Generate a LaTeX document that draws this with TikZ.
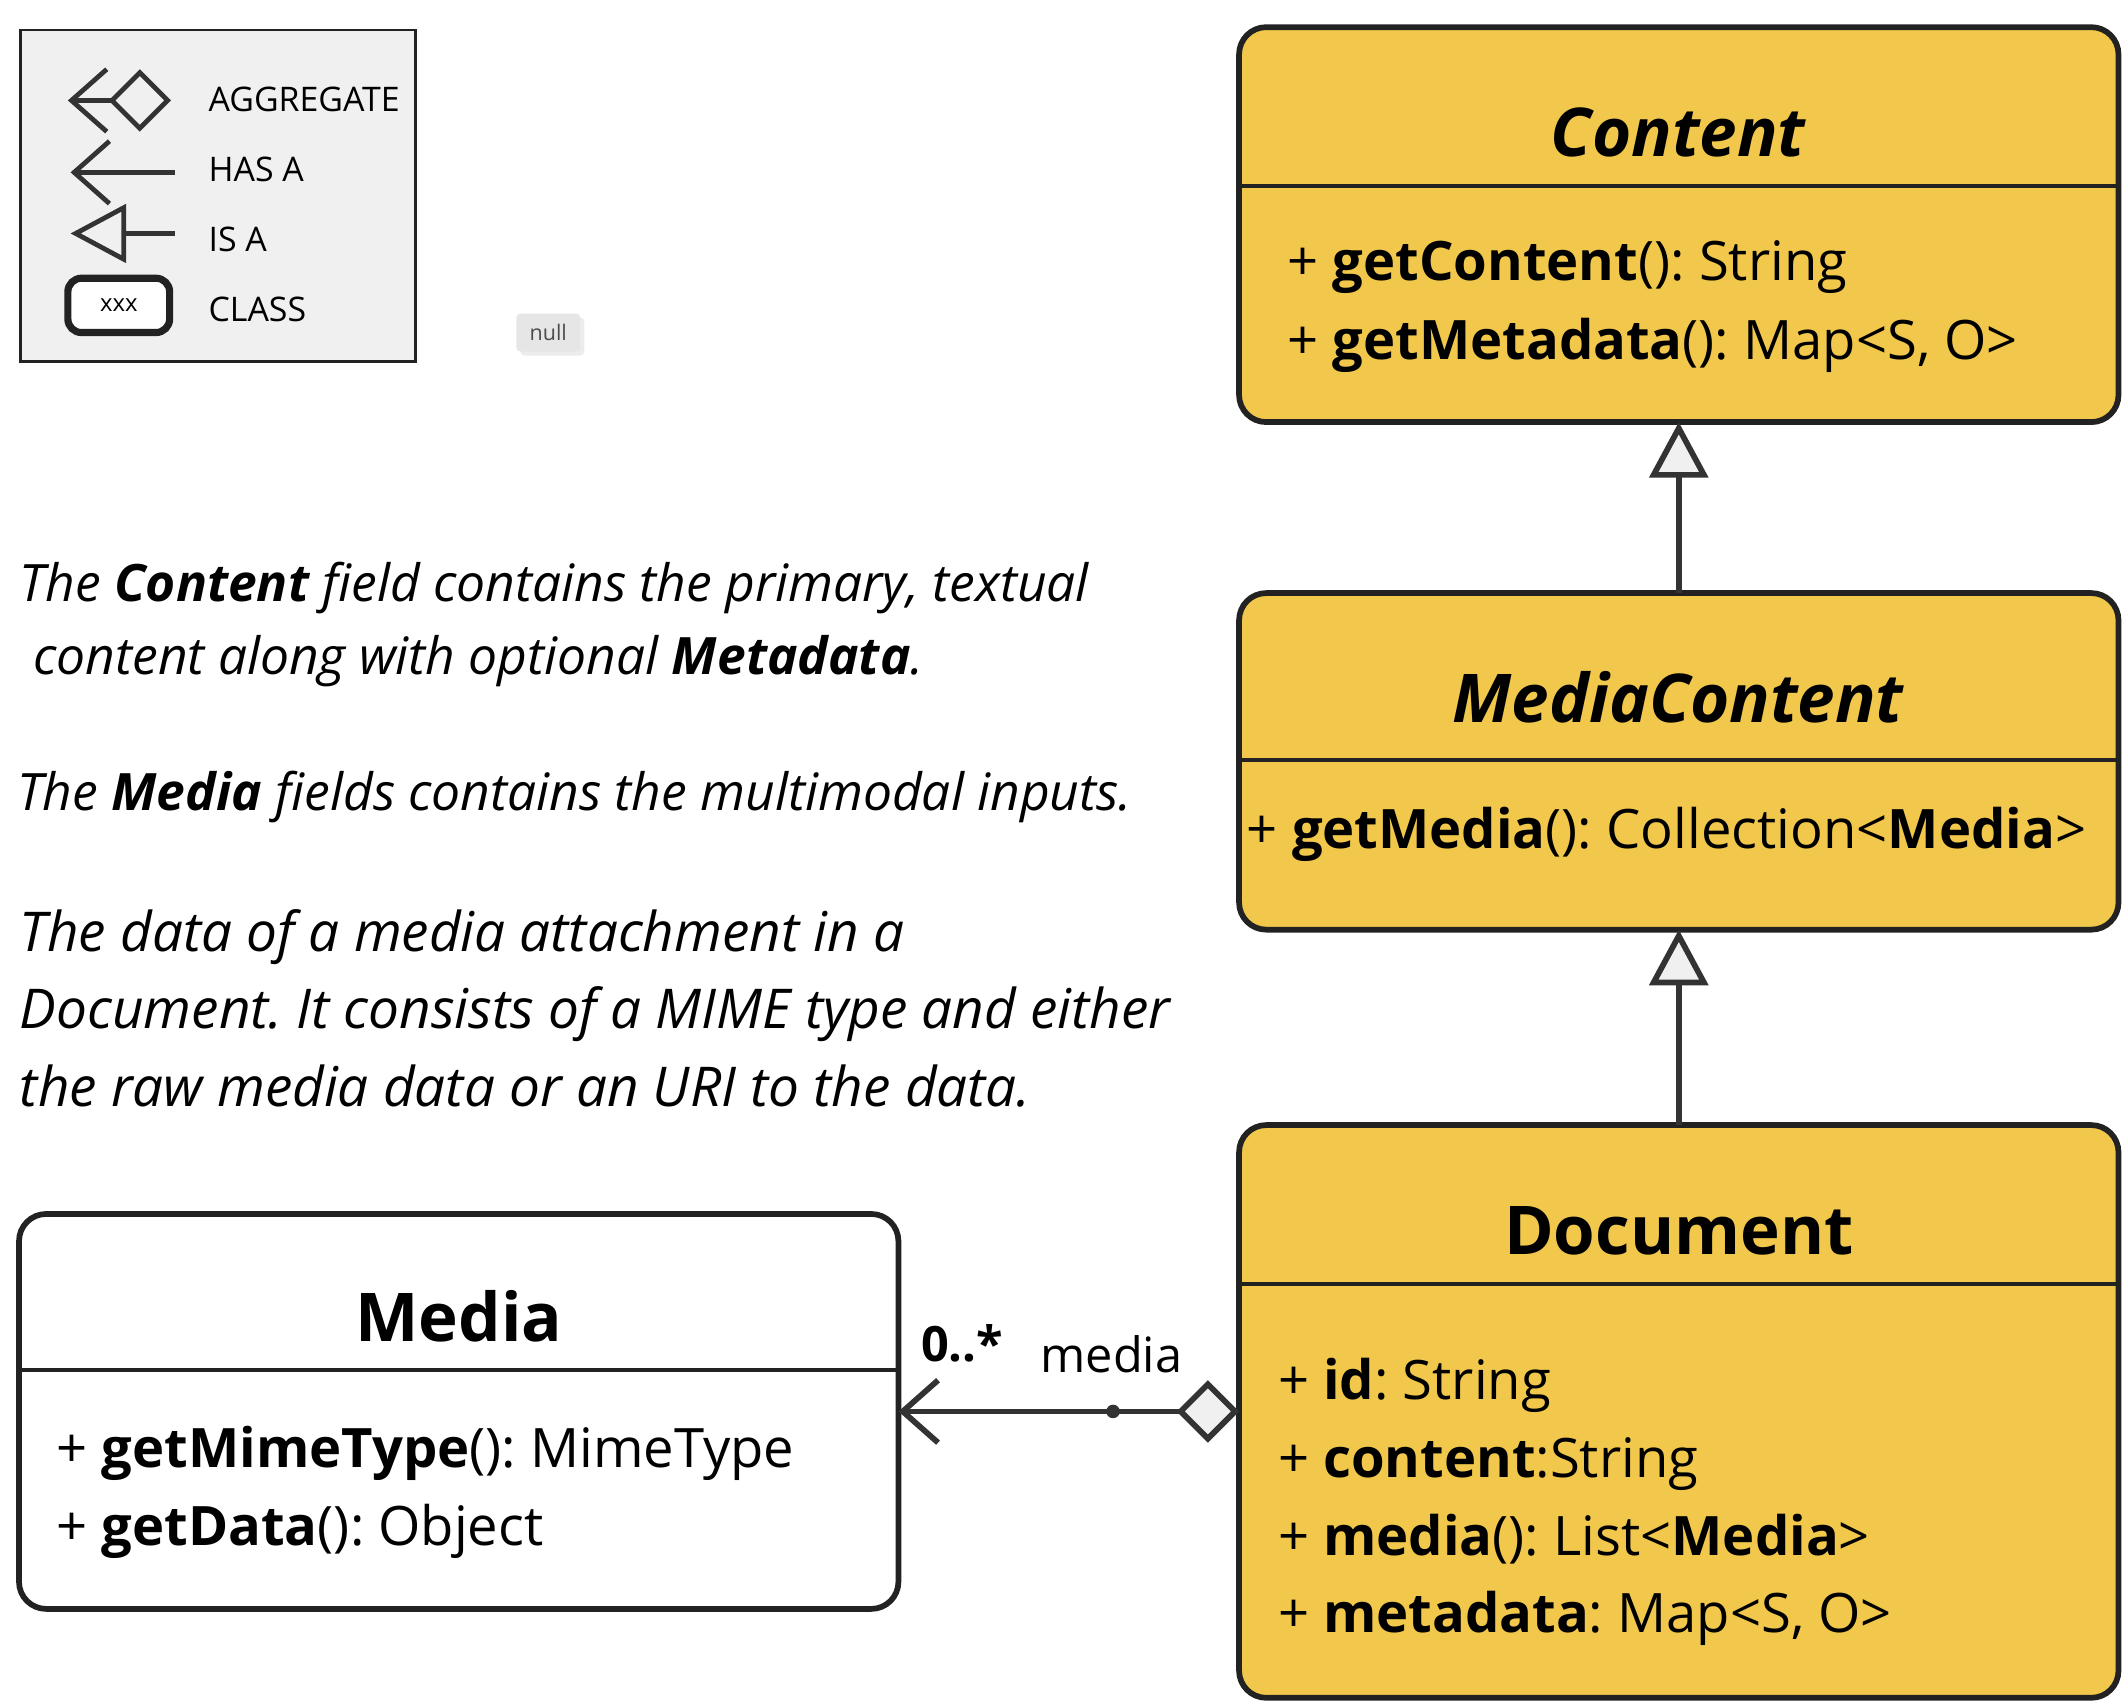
\documentclass[tikz,border=0pt]{standalone}
\usepackage{fontspec}
\setmainfont{Open Sans}
\usetikzlibrary{arrows.meta,positioning,calc,shadows}
\frenchspacing

\definecolor{umlyellow}{HTML}{F1C84B}
\definecolor{umlline}{HTML}{222222}
\definecolor{linkgray}{HTML}{333333}
\definecolor{legendbg}{HTML}{F0F0F0}
\definecolor{nullbg}{HTML}{E6E6E6}

\newcommand\titlefont{\fontsize{14.1}{17}\selectfont\bfseries}
\newcommand\attrfont{\fontsize{11.4}{14}\selectfont}
\newcommand\notefont{\fontsize{10.8}{13}\selectfont\itshape}
\newcommand\bignotefont{\fontsize{11.5}{14}\selectfont\itshape}
\newcommand\keyfont{\fontsize{7.1}{9}\selectfont}

\begin{document}
\begin{tikzpicture}[x=0.1mm,y=-0.1mm,
    classbox/.style={draw=umlline,fill=umlyellow,line width=1.2pt,rounded corners=2mm,
      anchor=north west,minimum width=64.8mm,inner sep=0pt,outer sep=0pt},
    divider/.style={draw=umlline,line width=0.9pt},
    classname/.style={font=\titlefont,anchor=base,inner sep=0pt},
    attr/.style={font=\attrfont,anchor=base west,inner sep=0pt},
    note/.style={font=\notefont,anchor=base west,inner sep=0pt},
    key/.style={font=\keyfont,anchor=base west,inner sep=0pt},
    isa/.style={draw=linkgray,line width=1.2pt,
      -{Triangle[fill=legendbg,length=4.1mm,width=4.3mm]}},
    hasa/.style={draw=linkgray,line width=1.2pt,
      -{Straight Barb[length=2.6mm,width=4.6mm]}},
    agg/.style={draw=linkgray,line width=1.2pt,
      {Straight Barb[length=2.6mm,width=4.6mm]}-{Diamond[fill=legendbg,length=4.6mm,width=4.6mm]}},
    dot/.style={circle,fill=linkgray,inner sep=0pt,minimum size=1mm}]

  \useasboundingbox (0,0) rectangle (1568,1256);

  % legend
  \node[draw=umlline,fill=legendbg,line width=0.6pt,anchor=north west,inner sep=0pt,
    minimum width=29.1mm,minimum height=24.4mm] (legend) at (14,21) {};
  \coordinate (aggL) at (50,74);
  \coordinate (aggR) at (126,74);
  \coordinate (hasL) at (52,127);
  \coordinate (hasR) at (129,127);
  \coordinate (isL) at (52,172);
  \coordinate (isR) at (129,172);
  \draw[agg,line width=1pt] (aggL) -- (aggR);
  \draw[hasa,line width=1pt] (hasR) -- (hasL);
  \draw[isa,line width=1pt] (isR) -- (isL);
  \node[draw=umlline,fill=white,line width=1.5pt,rounded corners=1mm,inner sep=0pt,
    minimum width=7.5mm,minimum height=4mm,font=\fontsize{5}{6}\selectfont]
    (keyclass) at (87.5,225) {xxx};
  \node[key] (keyagg) at (153,82) {AGGREGATE};
  \node[key] (keyhas) at (153,134) {HAS A};
  \node[key] (keyis) at (153,185) {IS A};
  \node[key] (keyclassname) at (153,237) {CLASS};

  \node[fill=nullbg,rounded corners=0.3mm,inner sep=0pt,minimum width=4.7mm,minimum height=2.8mm,
    drop shadow={opacity=0.15,shadow xshift=0.3mm,shadow yshift=-0.3mm},
    font=\fontsize{4.5}{5}\selectfont,text=black!70] (nullbadge) at (404,245) {null};

  % classes
  \node[classbox,minimum height=29.1mm] (content) at (913,20) {};
  \draw[divider] ($(content.north west)+(0,117)$) -- ($(content.north east)+(0,117)$);
  \node[classname] (contentname) at ($(content.north)+(0,95)$) {\textit{Content}};
  \node[attr] (contentattr1) at ($(content.north west)+(35,187)$) {+ \textbf{getContent}(): String};
  \node[attr] (contentattr2) at ($(content.north west)+(35,245)$) {+ \textbf{getMetadata}(): Map<S, O>};

  \node[classbox,minimum height=24.8mm,below=12.6mm of content] (mediacontent) {};
  \draw[divider] ($(mediacontent.north west)+(0,123)$) -- ($(mediacontent.north east)+(0,123)$);
  \node[classname] (mediacontentname) at ($(mediacontent.north)+(0,95)$) {\textit{MediaContent}};
  \node[attr] (mediacontentattr1) at ($(mediacontent.north west)+(5,188)$) {+ \textbf{getMedia}(): Collection<\textbf{Media}>};

  \node[classbox,minimum height=42.2mm,below=14.4mm of mediacontent] (document) {};
  \draw[divider] ($(document.north west)+(0,117)$) -- ($(document.north east)+(0,117)$);
  \node[classname] (documentname) at ($(document.north)+(0,95)$) {Document};
  \node[attr] (documentattr1) at ($(document.north west)+(28,202)$) {+ \textbf{id}: String};
  \node[attr] (documentattr2) at ($(document.north west)+(28,260)$) {+ \textbf{content}:String};
  \node[attr] (documentattr3) at ($(document.north west)+(28,317)$) {+ \textbf{media}(): List<\textbf{Media}>};
  \node[attr] (documentattr4) at ($(document.north west)+(28,374)$) {+ \textbf{metadata}: Map<S, O>};

  \node[classbox,fill=white,minimum height=29.1mm,left=25.1mm of document] (media) {};
  \draw[divider] ($(media.north west)+(0,115)$) -- ($(media.north east)+(0,115)$);
  \node[classname] (medianame) at ($(media.north)+(0,94)$) {Media};
  \node[attr] (mediaattr1) at ($(media.north west)+(27,187)$) {+ \textbf{getMimeType}(): MimeType};
  \node[attr] (mediaattr2) at ($(media.north west)+(27,244)$) {+ \textbf{getData}(): Object};

  % relations
  \draw[isa] (mediacontent.north) -- (content.south);
  \draw[isa] (document.north) -- (mediacontent.south);
  \draw[agg] (media.east) -- node[pos=0.63,dot] (aggdot) {} (document.west);
  \node[font=\fontsize{10.2}{12}\selectfont\bfseries,anchor=base west,inner sep=0pt] (mult) at (678,1003) {0..*};
  \node[font=\fontsize{10.2}{12}\selectfont,anchor=base west,inner sep=0pt] (role) at (766,1011) {media};

  % notes
  \node[note] (note1) at (14,443) {The \textbf{Content} field contains the primary, textual};
  \node[note] (note2) at (24,497) {content along with optional \textbf{Metadata}.};
  \node[note] (note3) at (12,597) {The \textbf{Media} fields contains the multimodal inputs.};
  \node[note,font=\bignotefont] (note4) at (14,701) {The data of a media attachment in a};
  \node[note,font=\bignotefont] (note5) at (14,758) {Document. It consists of a MIME type and either};
  \node[note,font=\bignotefont] (note6) at (14,815) {the raw media data or an URI to the data.};

\end{tikzpicture}
\end{document}
